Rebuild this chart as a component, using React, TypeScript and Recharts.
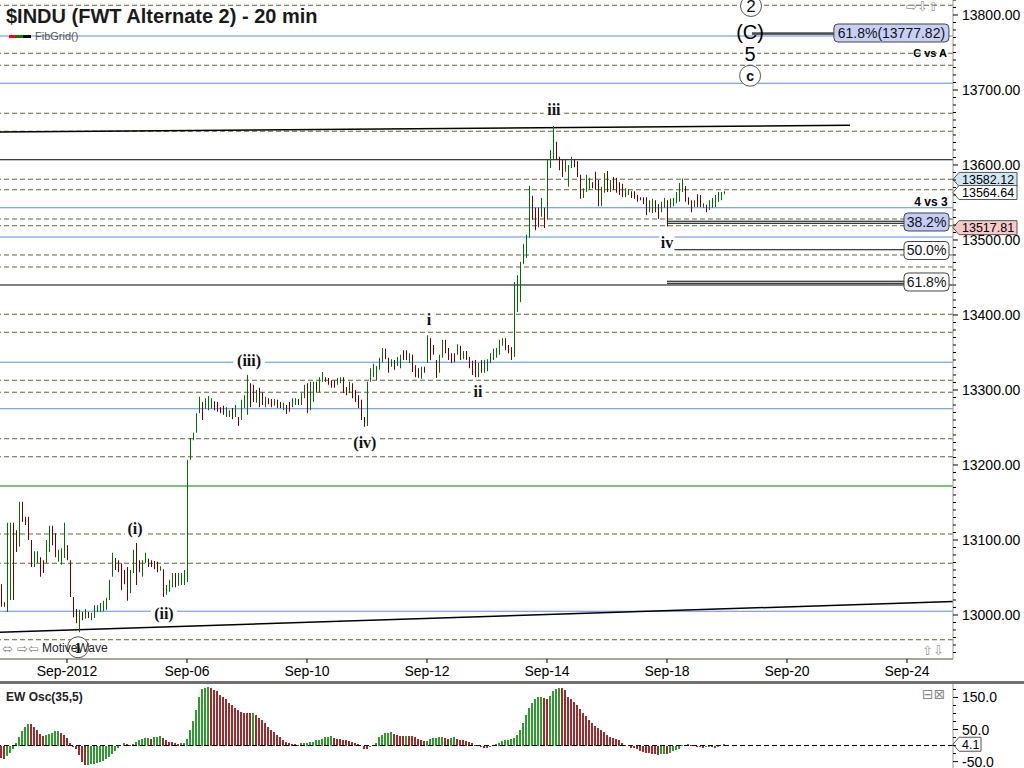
import React from 'react';
import {
  ComposedChart,
  BarChart,
  Bar,
  XAxis,
  YAxis,
  ReferenceLine,
  ReferenceDot,
} from 'recharts';

// one row per 20-min bar: [high, low, up (1) / down (0), EW Osc value]
type Row = [number, number, number, number];

const aug31: Row[] = [
  [13041, 13011, 0, -40], [13017, 13011, 0, -41], [13123, 13004, 1, -32], [13123, 13020, 1, -22],
  [13123, 13020, 0, -12], [13113, 13084, 0, 7], [13151, 13091, 1, 28], [13151, 13124, 0, 44],
  [13131, 13120, 0, 57], [13131, 13100, 0, 67], [13100, 13064, 0, 66], [13085, 13064, 1, 57],
  [13085, 13069, 1, 47], [13077, 13051, 0, 35], [13073, 13056, 0, 30], [13100, 13069, 1, 32],
  [13119, 13084, 1, 36], [13119, 13093, 0, 40], [13109, 13077, 0, 44], [13087, 13071, 1, 45],
  [13089, 13067, 1, 40], [13123, 13076, 1, 34],
];
const sep04: Row[] = [
  [13093, 13073, 0, 24], [13073, 13024, 0, 8], [13024, 12997, 0, -3], [13008, 12989, 0, -12],
  [13007, 12977, 1, -30], [13004, 12993, 0, -50], [13008, 12995, 1, -61], [13004, 12996, 0, -60],
  [13003, 12993, 1, -59], [13013, 12996, 1, -57], [13013, 13004, 1, -54], [13016, 13004, 1, -51],
  [13019, 13005, 1, -47], [13023, 13007, 1, -43], [13047, 13020, 1, -36], [13083, 13051, 1, -26],
  [13076, 13060, 0, -16], [13073, 13057, 0, -8], [13069, 13033, 0, 0], [13060, 13041, 0, 9],
];
const sep05: Row[] = [
  [13064, 13019, 0, 5], [13060, 13029, 1, 3], [13087, 13056, 1, 5], [13096, 13040, 0, 12],
  [13073, 13057, 0, 16], [13073, 13051, 1, 19], [13083, 13069, 1, 24], [13075, 13064, 0, 25],
  [13073, 13064, 0, 21], [13072, 13061, 0, 27], [13071, 13057, 0, 28], [13065, 13059, 1, 29],
  [13061, 13024, 0, 24], [13040, 13027, 1, 16], [13047, 13031, 1, 12], [13056, 13037, 1, 10],
  [13056, 13037, 0, 7], [13056, 13039, 1, 5], [13056, 13040, 1, 7], [13060, 13040, 1, 9],
];
const sep06: Row[] = [
  [13207, 13044, 1, 21], [13236, 13207, 1, 47], [13243, 13233, 1, 78], [13269, 13243, 1, 111],
  [13291, 13269, 1, 150], [13284, 13260, 0, 175], [13289, 13275, 1, 180], [13292, 13273, 1, 182],
  [13289, 13275, 1, 180], [13285, 13273, 0, 174], [13284, 13271, 0, 169], [13277, 13269, 0, 159],
  [13279, 13267, 0, 151], [13277, 13264, 1, 144], [13273, 13264, 1, 132], [13276, 13261, 0, 125],
  [13280, 13264, 1, 118], [13264, 13252, 0, 111], [13287, 13260, 1, 106], [13293, 13276, 1, 102],
];
const sep07: Row[] = [
  [13320, 13267, 1, 101], [13309, 13277, 0, 100], [13307, 13284, 0, 101], [13300, 13283, 1, 96],
  [13303, 13277, 0, 86], [13297, 13280, 0, 80], [13291, 13277, 1, 71], [13289, 13281, 0, 59],
  [13288, 13277, 0, 47], [13288, 13279, 1, 42], [13287, 13276, 0, 34], [13284, 13276, 0, 26],
  [13283, 13273, 1, 18], [13280, 13268, 0, 10], [13284, 13271, 0, 7], [13289, 13277, 1, 5],
  [13289, 13280, 1, 4], [13288, 13280, 0, 3], [13296, 13280, 1, 7], [13307, 13289, 1, 8],
];
const sep10: Row[] = [
  [13309, 13269, 0, 9], [13311, 13273, 1, 10], [13311, 13284, 1, 12], [13311, 13297, 0, 16],
  [13317, 13297, 1, 18], [13324, 13311, 1, 21], [13317, 13311, 0, 26], [13316, 13307, 0, 28],
  [13313, 13303, 0, 29], [13313, 13303, 0, 24], [13316, 13307, 1, 21], [13317, 13309, 1, 20],
  [13317, 13296, 0, 18], [13304, 13293, 0, 16], [13311, 13296, 1, 15], [13309, 13289, 0, 12],
  [13300, 13284, 0, 9], [13293, 13276, 0, 5], [13287, 13260, 0, -1], [13264, 13251, 0, -10],
];
const sep11: Row[] = [
  [13311, 13252, 1, -12], [13329, 13311, 1, -5], [13335, 13317, 1, 2], [13332, 13313, 1, 9],
  [13343, 13327, 1, 26], [13356, 13337, 1, 34], [13355, 13341, 0, 38], [13343, 13323, 0, 40],
  [13341, 13331, 1, 41], [13340, 13327, 0, 37], [13344, 13332, 1, 34], [13347, 13329, 1, 31],
  [13353, 13340, 0, 30], [13353, 13340, 0, 31], [13349, 13336, 1, 30], [13347, 13324, 0, 29],
  [13333, 13317, 0, 27], [13329, 13316, 0, 22], [13331, 13315, 1, 16], [13331, 13323, 0, 13],
];
const sep12: Row[] = [
  [13373, 13336, 1, 14], [13369, 13340, 0, 21], [13360, 13347, 0, 24], [13340, 13316, 0, 25],
  [13347, 13323, 1, 25.5], [13367, 13343, 1, 26], [13367, 13349, 0, 24], [13356, 13340, 0, 21],
  [13349, 13336, 0, 25], [13349, 13337, 0, 25.5], [13361, 13347, 1, 21], [13359, 13340, 0, 18],
  [13352, 13341, 1, 16], [13352, 13340, 0, 15], [13344, 13329, 0, 12], [13339, 13320, 0, 8],
  [13340, 13317, 0, 2], [13336, 13317, 1, -1], [13340, 13323, 0, -5], [13340, 13323, 1, -8],
];
const sep13: Row[] = [
  [13341, 13325, 1, -9], [13349, 13336, 1, -3], [13355, 13340, 1, 1], [13356, 13343, 1, 4],
  [13367, 13347, 1, 8], [13369, 13359, 1, 13], [13369, 13353, 0, 16], [13360, 13349, 0, 18],
  [13357, 13340, 0, 19], [13444, 13344, 1, 25], [13453, 13404, 1, 34], [13471, 13417, 1, 47],
  [13495, 13468, 1, 69], [13507, 13476, 1, 94], [13572, 13503, 1, 116], [13559, 13527, 0, 134],
  [13543, 13513, 0, 144], [13543, 13517, 0, 150], [13556, 13531, 1, 153], [13543, 13516, 0, 147],
];
const sep14: Row[] = [
  [13607, 13527, 1, 146], [13620, 13596, 1, 156], [13652, 13607, 1, 169], [13631, 13607, 0, 175],
  [13611, 13593, 0, 181], [13607, 13584, 0, 178], [13607, 13591, 1, 172], [13600, 13571, 1, 153],
  [13611, 13596, 1, 144], [13607, 13597, 0, 137], [13605, 13584, 0, 128], [13587, 13555, 0, 115],
  [13569, 13556, 1, 103], [13587, 13564, 1, 91], [13583, 13567, 1, 81], [13577, 13569, 0, 69],
  [13591, 13567, 0, 62], [13580, 13545, 0, 56], [13571, 13545, 1, 47], [13589, 13563, 1, 41],
];
const sep17: Row[] = [
  [13592, 13564, 0, 34], [13580, 13564, 1, 28], [13584, 13567, 0, 25], [13583, 13563, 0, 22],
  [13577, 13560, 0, 16], [13575, 13557, 0, 9], [13569, 13557, 1, 2], [13568, 13560, 1, -1],
  [13565, 13556, 0, -8], [13565, 13555, 0, -9], [13560, 13551, 0, -12], [13557, 13553, 0, -16],
  [13557, 13548, 0, -19], [13557, 13533, 0, -22], [13553, 13537, 1, -24], [13555, 13536, 1, -26],
  [13553, 13537, 0, -27], [13548, 13528, 0, -28], [13551, 13537, 1, -27], [13556, 13543, 1, -25],
];
const sep18: Row[] = [
  [13553, 13518, 0, -26], [13555, 13543, 1, -23], [13556, 13545, 1, -18], [13564, 13549, 1, -15],
  [13576, 13551, 1, -11], [13582, 13564, 1, 1], [13572, 13551, 0, 3], [13557, 13547, 0, 6],
  [13553, 13537, 0, 3], [13553, 13544, 1, -2], [13561, 13544, 0, -4], [13560, 13544, 0, -5],
  [13549, 13543, 1, -7], [13547, 13537, 0, -5], [13553, 13540, 1, -3], [13556, 13543, 1, -5],
  [13560, 13544, 1, -7], [13564, 13551, 1, -4], [13564, 13553, 1, 0], [13565, 13561, 1, 4.1],
];

const sessions = [aug31, sep04, sep05, sep06, sep07, sep10, sep11, sep12, sep13, sep14, sep17, sep18];

// x axis: bar index, first bar of each labelled session
const dayTicks = [22, 62, 102, 142, 182, 222, 262, 302];
const dayLabels = ['Sep-2012', 'Sep-06', 'Sep-10', 'Sep-12', 'Sep-14', 'Sep-18', 'Sep-20', 'Sep-24'];

// FibGrid levels
const dashedLevels = [
  13813, 13749, 13733, 13669, 13645, 13581, 13567, 13528, 13519, 13480, 13464, 13401, 13377,
  13313, 13297, 13235, 13211, 13108, 13069, 12967,
];
const blueLevels = [13772, 13709, 13543, 13504, 13337, 13275, 13005];
const blackLevels = [13607, 13440];
const greenLevels = [13172];

// retracement of wave iii, drawn from the iv low
const fibNames = ['38.2%', '50.0%', '61.8%'];
const fibPrices = [13525, 13487, 13445];
const fibStarts = [222.3, 223, 222];

const trendLines = [
  { from: [-0.33, 12977], to: [317.33, 13018] },
  { from: [-0.33, 13644], to: [283, 13653] },
];

const waveLabels = [
  { text: '2', i: 250, price: 13812, kind: 'circle' },
  { text: '(C)', i: 249.7, price: 13777, kind: 'big' },
  { text: '5', i: 249.7, price: 13748, kind: 'big' },
  { text: 'c', i: 249.7, price: 13719, kind: 'circle' },
  { text: 'iii', i: 184.3, price: 13673, kind: 'roman' },
  { text: 'iv', i: 222, price: 13496, kind: 'roman' },
  { text: 'i', i: 142.7, price: 13393, kind: 'roman' },
  { text: 'ii', i: 159, price: 13297, kind: 'roman' },
  { text: '(iii)', i: 82.7, price: 13339, kind: 'roman' },
  { text: '(iv)', i: 121.3, price: 13229, kind: 'roman' },
  { text: '(i)', i: 44.7, price: 13115, kind: 'roman' },
  { text: '(ii)', i: 54.3, price: 13001, kind: 'roman' },
  { text: '1', i: 25.7, price: 12957, kind: 'circle1' },
];

const priceTags = [
  { value: 13582.12, fill: '#cfe6f3' },
  { value: 13564.64, fill: '#ffffff' },
  { value: 13517.81, fill: '#f6c8c8' },
];
const oscLast = 4.1;

const GREEN = '#006e00';
const RED = '#6e0000';
const OSC_GREEN = '#2f9a2f';
const OSC_RED = '#9c2c2c';
const OLIVE = '#556b2f';
const BLUE = '#5a8ee6';
const FONT = '"Liberation Sans", Arial, sans-serif';
const SERIF = '"Liberation Serif", "Times New Roman", serif';
const ICONS = '"DejaVu Sans", sans-serif';

const X_DOMAIN: [number, number] = [-1 / 3, 317 + 1 / 3];
const RIGHT_EDGE = X_DOMAIN[1];

const rows = sessions.flat();
const data = rows.map(([high, low, up, osc], i) => ({
  i,
  range: [low, high],
  up: up === 1,
  osc,
  oscUp: i > 0 && osc >= rows[i - 1][3],
}));

const priceTicks: number[] = [];
for (let v = 12950; v <= 13820; v += 10) priceTicks.push(v);
const oscTicks = [-50, -25, 0, 25, 50, 75, 100, 125, 150, 175];

function OhlcBar(props: any) {
  const { x, y, width, height, payload } = props;
  if (x == null || y == null) return null;
  const cx = Math.round(x + width / 2) + 0.5;
  return (
    <line
      x1={cx}
      x2={cx}
      y1={y}
      y2={y + Math.max(height, 1)}
      stroke={payload.up ? GREEN : RED}
      strokeWidth={1}
    />
  );
}

function OscBar(props: any) {
  const { x, y, width, height, payload } = props;
  if (x == null || y == null) return null;
  let top = y;
  let h = height;
  if (h < 0) {
    top = y + h;
    h = -h;
  }
  const left = Math.round(x + width / 2) - 1;
  return (
    <rect
      x={left}
      y={top}
      width={2}
      height={Math.max(h, 0.6)}
      fill={payload.oscUp ? OSC_GREEN : OSC_RED}
      shapeRendering="crispEdges"
    />
  );
}

function PriceAxisTick(props: any) {
  const { x, y, payload } = props;
  const v = payload.value;
  const major = v % 100 === 0;
  return (
    <g>
      <line x1={x} x2={x + (major ? 5 : 3)} y1={y} y2={y} stroke="#000" />
      {major && (
        <text x={x + 9} y={y + 5} fontSize={14} fill="#000" fontFamily={FONT}>
          {v.toFixed(2)}
        </text>
      )}
    </g>
  );
}

function OscAxisTick(props: any) {
  const { x, y, payload } = props;
  const v = payload.value;
  const major = (v - 50) % 100 === 0;
  return (
    <g>
      <line x1={x} x2={x + (major ? 5 : 3)} y1={y} y2={y} stroke="#000" />
      {major && (
        <text x={x + 9} y={y + 5} fontSize={14} fill="#000" fontFamily={FONT}>
          {v.toFixed(1)}
        </text>
      )}
    </g>
  );
}

function DateTick(props: any) {
  const { x, y, payload } = props;
  const label = dayLabels[dayTicks.indexOf(payload.value)];
  return (
    <g>
      <line x1={x} x2={x} y1={y} y2={y + 4} stroke="#000" />
      <text x={x} y={y + 17} textAnchor="middle" fontSize={14} fill="#000" fontFamily={FONT}>
        {label}
      </text>
    </g>
  );
}

function WaveLabel({ cx, cy, text, kind }: any) {
  if (kind === 'circle' || kind === 'circle1') {
    const bold = text === 'c' || kind === 'circle1';
    return (
      <g>
        <circle cx={cx} cy={cy} r={10.5} fill="#fff" stroke="#555" />
        <text
          x={cx}
          y={cy + 5.5}
          textAnchor="middle"
          fontSize={text === '2' ? 17 : 14}
          fontWeight={bold ? 'bold' : 'normal'}
          fontFamily={kind === 'circle1' ? SERIF : FONT}
          fill="#111"
        >
          {text}
        </text>
      </g>
    );
  }
  if (kind === 'big') {
    return (
      <g>
        {text === '5' && <rect x={cx - 7} y={cy - 8} width={14} height={16} fill="#fff" />}
        <text x={cx} y={cy + 7} textAnchor="middle" fontSize={20} fontFamily={FONT} fill="#000">
          {text}
        </text>
      </g>
    );
  }
  const w = text.length * 5.5 + 4;
  return (
    <g>
      <rect x={cx - w / 2} y={cy - 8} width={w} height={16} fill="#fff" />
      <text x={cx} y={cy + 5} textAnchor="middle" fontSize={16} fontWeight="bold" fontFamily={SERIF} fill="#111">
        {text}
      </text>
    </g>
  );
}

function FibBox({ cx, cy, text, fill, w }: any) {
  return (
    <g>
      <rect x={cx - w / 2} y={cy - 9} width={w} height={18} rx={4} fill={fill} stroke="#444" />
      <text x={cx} y={cy + 5} textAnchor="middle" fontSize={14} fontFamily={FONT} fill="#111">
        {text}
      </text>
    </g>
  );
}

function SideTag({ cx, cy, text, fill, w }: any) {
  return (
    <g>
      <path
        d={`M${cx},${cy} L${cx + 6},${cy - 7} H${cx + w} V${cy + 7} H${cx + 6} Z`}
        fill={fill}
        stroke="#555"
      />
      <text x={cx + 9} y={cy + 4.5} fontSize={12.5} fontFamily={FONT} fill="#000">
        {text}
      </text>
    </g>
  );
}

function NoteText({ cx, cy, text, size }: any) {
  return (
    <text x={cx} y={cy + 4} textAnchor="middle" fontSize={size} fontWeight="bold" fontFamily={FONT} fill="#000">
      {text}
    </text>
  );
}

export default function App() {
  return (
    <div
      style={{
        position: 'absolute',
        left: 0,
        top: 0,
        width: 1024,
        height: 768,
        background: '#fff',
        fontFamily: FONT,
        overflow: 'hidden',
      }}
    >
      <div style={{ position: 'absolute', left: 0, top: 0 }}>
        <ComposedChart width={1024} height={682} data={data} margin={{ top: 0, right: 0, bottom: 0, left: 0 }}>
          <XAxis
            dataKey="i"
            type="number"
            domain={X_DOMAIN}
            allowDataOverflow
            ticks={dayTicks}
            interval={0}
            height={23}
            tickSize={0}
            tickMargin={0}
            tick={<DateTick />}
            axisLine={{ stroke: '#a8a89a', strokeWidth: 2 }}
          />
          <YAxis
            orientation="right"
            type="number"
            width={71}
            domain={[12941.33, 13820]}
            allowDataOverflow
            ticks={priceTicks}
            interval={0}
            tickSize={0}
            tickMargin={0}
            tick={<PriceAxisTick />}
            axisLine={{ stroke: '#9a9a8e' }}
          />
          {dashedLevels.map((v) => (
            <ReferenceLine key={`d${v}`} y={v} stroke={OLIVE} strokeDasharray="5 3" zIndex={-50} />
          ))}
          {blueLevels.map((v) => (
            <ReferenceLine key={`b${v}`} y={v} stroke={BLUE} zIndex={-50} />
          ))}
          {blackLevels.map((v) => (
            <ReferenceLine key={`k${v}`} y={v} stroke="#000" zIndex={-50} />
          ))}
          {greenLevels.map((v) => (
            <ReferenceLine key={`g${v}`} y={v} stroke="#008000" zIndex={-50} />
          ))}
          {trendLines.map((t, n) => (
            <ReferenceLine
              key={`t${n}`}
              segment={[
                { x: t.from[0], y: t.from[1] },
                { x: t.to[0], y: t.to[1] },
              ]}
              stroke="#000"
              strokeWidth={1.5}
              zIndex={-50}
            />
          ))}
          {fibPrices.map((p, n) => (
            <ReferenceLine
              key={`f${n}`}
              segment={[
                { x: fibStarts[n], y: p },
                { x: 301, y: p },
              ]}
              stroke="#000"
              zIndex={-40}
            />
          ))}
          {[fibPrices[0] - 2.7, fibPrices[2] - 2.7].map((p, n) => (
            <ReferenceLine
              key={`f2${n}`}
              segment={[
                { x: fibStarts[n * 2], y: p },
                { x: 301, y: p },
              ]}
              stroke="#000"
              zIndex={-40}
            />
          ))}
          {[13776, 13774.5].map((p) => (
            <ReferenceLine
              key={`c${p}`}
              segment={[
                { x: 250.3, y: p },
                { x: 277.7, y: p },
              ]}
              stroke="#000"
              zIndex={-40}
            />
          ))}
          <Bar dataKey="range" barSize={1} shape={<OhlcBar />} isAnimationActive={false} />
          {waveLabels.map((w) => (
            <ReferenceDot
              key={`w${w.text}${w.i}`}
              x={w.i}
              y={w.price}
              r={0}
              ifOverflow="visible"
              shape={(p: any) => <WaveLabel cx={p.cx} cy={p.cy} text={w.text} kind={w.kind} />}
            />
          ))}
          <ReferenceDot
            x={296.8}
            y={13776}
            r={0}
            ifOverflow="visible"
            shape={(p: any) => <FibBox cx={p.cx} cy={p.cy} text="61.8%(13777.82)" fill="#c8cff7" w={115} />}
          />
          {fibPrices.map((p, n) => (
            <ReferenceDot
              key={`fb${n}`}
              x={308.5}
              y={p - 1}
              r={0}
              ifOverflow="visible"
              shape={(d: any) => (
                <FibBox cx={d.cx} cy={d.cy} text={fibNames[n]} fill={n === 0 ? '#c3cbf6' : '#fff'} w={45} />
              )}
            />
          ))}
          <ReferenceDot
            x={309.7}
            y={13749}
            r={0}
            ifOverflow="visible"
            shape={(p: any) => <NoteText cx={p.cx} cy={p.cy} text="C vs A" size={11} />}
          />
          <ReferenceDot
            x={310}
            y={13551}
            r={0}
            ifOverflow="visible"
            shape={(p: any) => <NoteText cx={p.cx} cy={p.cy} text="4 vs 3" size={12} />}
          />
          {priceTags.map((t) => (
            <ReferenceDot
              key={`pt${t.value}`}
              x={RIGHT_EDGE}
              y={t.value}
              r={0}
              ifOverflow="visible"
              shape={(p: any) => <SideTag cx={p.cx} cy={p.cy + 1} text={t.value.toFixed(2)} fill={t.fill} w={64} />}
            />
          ))}
        </ComposedChart>
      </div>

      <div style={{ position: 'absolute', left: 0, top: 684 }}>
        <BarChart width={1024} height={84} data={data} margin={{ top: 0, right: 0, bottom: 0, left: 0 }}>
          <XAxis dataKey="i" type="number" domain={X_DOMAIN} allowDataOverflow hide />
          <YAxis
            orientation="right"
            type="number"
            width={71}
            domain={[-70, 192]}
            allowDataOverflow
            ticks={oscTicks}
            interval={0}
            tickSize={0}
            tickMargin={0}
            tick={<OscAxisTick />}
            axisLine={{ stroke: '#9a9a8e' }}
          />
          <Bar dataKey="osc" barSize={2} shape={<OscBar />} isAnimationActive={false} />
          <ReferenceLine y={0} stroke="#000" strokeDasharray="5 3" />
          <ReferenceDot
            x={RIGHT_EDGE}
            y={oscLast}
            r={0}
            ifOverflow="visible"
            shape={(p: any) => <SideTag cx={p.cx} cy={p.cy} text={String(oscLast)} fill="#fff" w={28} />}
          />
        </BarChart>
      </div>

      <svg
        width={1024}
        height={768}
        style={{ position: 'absolute', left: 0, top: 0, pointerEvents: 'none' }}
      >
        <text x={6} y={23} fontSize={20} fontWeight="bold" fill="#1a1a1a" fontFamily={FONT}>
          $INDU (FWT Alternate 2) - 20 min
        </text>
        <rect x={9} y={35} width={7} height={3} fill="#ff0000" />
        <rect x={16} y={35} width={7} height={3} fill="#008000" />
        <rect x={23} y={35} width={8} height={3} fill="#000" />
        <text x={35} y={40} fontSize={11} fill="#555" fontFamily={FONT}>
          FibGrid()
        </text>
        <text x={906} y={11} fontSize={13} fill="#999" fontFamily={ICONS}>
          ⇨⇩⇧
        </text>
        <text x={922} y={655} fontSize={13} fill="#999" fontFamily={ICONS}>
          ⇧⇩
        </text>
        <text x={2} y={653} fontSize={13} fill="#888" fontFamily={ICONS}>
          ⬄ ⇨⇦
        </text>
        <text x={42} y={652} fontSize={12} fill="#222" fontFamily={FONT}>
          MotiveWave
        </text>
        <rect x={0} y={681} width={1024} height={3} fill="#707070" />
        <text x={6} y={701} fontSize={12} fontWeight="bold" fill="#222" fontFamily={FONT}>
          EW Osc(35,5)
        </text>
        <text x={922} y={699} fontSize={14} fill="#888" fontFamily={ICONS}>
          ⊟⊠
        </text>
      </svg>
    </div>
  );
}
